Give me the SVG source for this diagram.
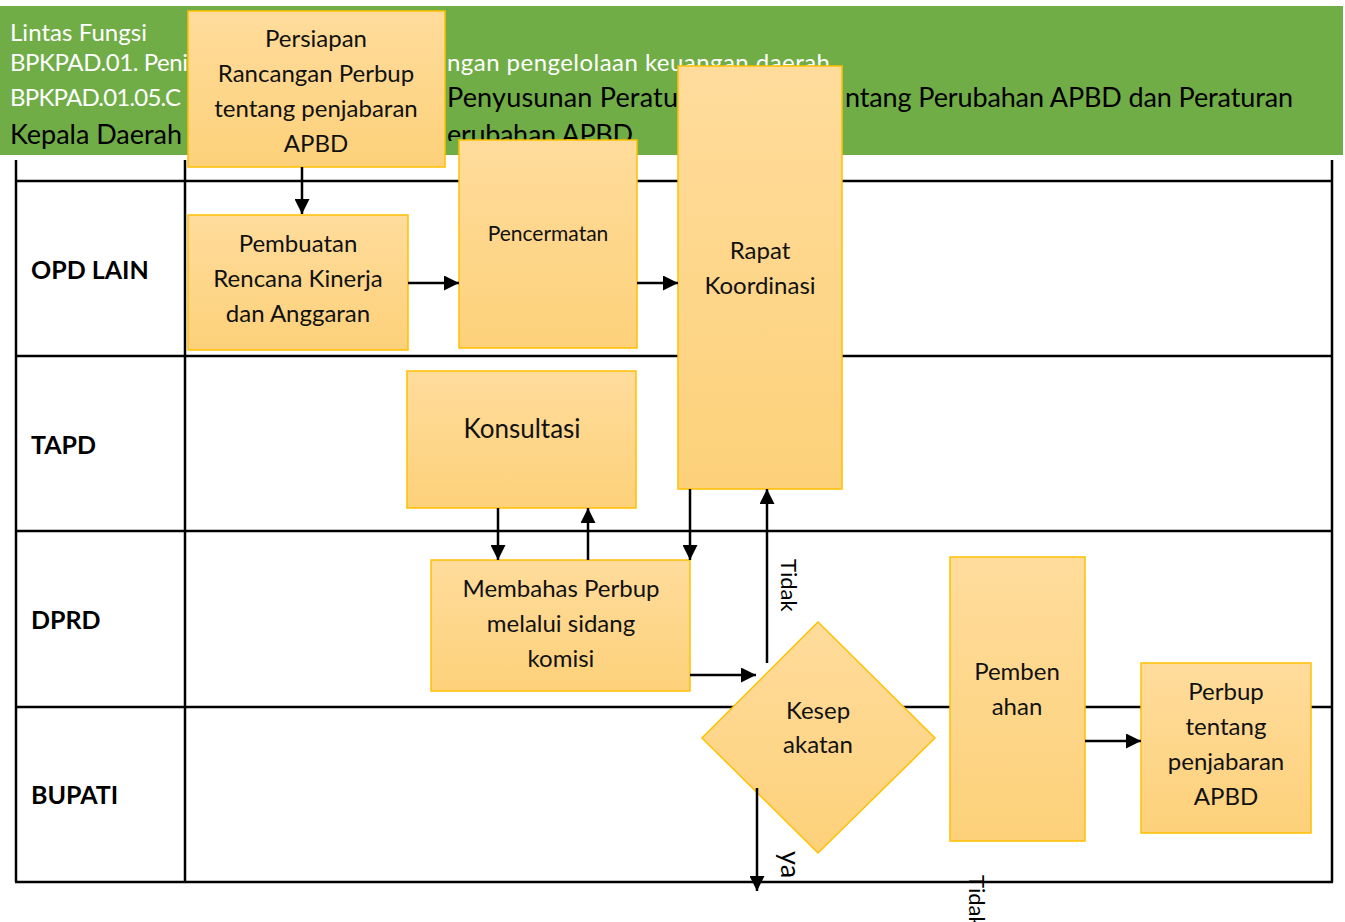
<svg xmlns="http://www.w3.org/2000/svg" width="1345" height="922" viewBox="0 0 1345 922">
  <style>
    .hdr-w { font-family: Lato, "Liberation Sans", sans-serif; font-size: 24px; fill: #ffffff; }
    .hdr-b { font-family: Lato, "Liberation Sans", sans-serif; font-size: 27px; fill: #000000; }
    .lane-line { stroke: #000000; stroke-width: 2.5; fill: none; }
    .lane-label { font-family: Lato, "Liberation Sans", sans-serif; font-size: 25px; font-weight: bold; fill: #000000; }
    .box { fill: url(#boxFill); stroke: #FFC000; stroke-width: 1.5; }
    .lbl { font-family: Lato, "Liberation Sans", sans-serif; font-size: 24px; fill: #111111; text-anchor: middle; }
    .lbl-s { font-family: Lato, "Liberation Sans", sans-serif; font-size: 21px; fill: #111111; text-anchor: middle; }
    .conn { stroke: #000000; stroke-width: 2.5; fill: none; marker-end: url(#arrow); }
    .side { font-family: Lato, "Liberation Sans", sans-serif; font-size: 22px; fill: #000000; }
  </style>
  <defs>
    <linearGradient id="boxFill" x1="0" y1="0" x2="0" y2="1">
      <stop offset="0" stop-color="#FFDC9C"/>
      <stop offset="1" stop-color="#FDD17A"/>
    </linearGradient>
    <marker id="arrow" markerUnits="userSpaceOnUse" markerWidth="15" markerHeight="15" viewBox="0 0 15 15" refX="15" refY="7.5" orient="auto">
      <path d="M0,0 L15,7.5 L0,15 Z" fill="#000000"/>
    </marker>
    <clipPath id="line4clip">
      <rect x="440" y="110" width="260" height="31"/>
    </clipPath>
  </defs>

  <!-- title band -->
  <g id="header">
    <rect x="0" y="6" width="1343" height="149" fill="#70AD47"/>
    <text class="hdr-w" x="10" y="41" textLength="137">Lintas Fungsi</text>
    <text class="hdr-w" x="10" y="71" textLength="178">BPKPAD.01. Peni</text>
    <text class="hdr-w" x="447" y="71" textLength="383">ngan pengelolaan keuangan daerah</text>
    <text class="hdr-w" x="10" y="106" textLength="171">BPKPAD.01.05.C</text>
    <text class="hdr-b" x="447" y="107" textLength="231">Penyusunan Peratu</text>
    <text class="hdr-b" x="845" y="107" textLength="448">ntang Perubahan APBD dan Peraturan</text>
    <text class="hdr-b" x="10" y="144" textLength="172">Kepala Daerah</text>
    <text class="hdr-b" x="447" y="144" textLength="186" clip-path="url(#line4clip)">erubahan APBD</text>
  </g>

  <!-- swimlane grid -->
  <g id="lanes">
    <line class="lane-line" x1="16" y1="160" x2="16" y2="882"/>
    <line class="lane-line" x1="185" y1="160" x2="185" y2="882"/>
    <line class="lane-line" x1="1332" y1="160" x2="1332" y2="882"/>
    <line class="lane-line" x1="15" y1="181" x2="1333" y2="181"/>
    <line class="lane-line" x1="15" y1="356" x2="1333" y2="356"/>
    <line class="lane-line" x1="15" y1="531" x2="1333" y2="531"/>
    <line class="lane-line" x1="15" y1="707" x2="1333" y2="707"/>
    <line class="lane-line" x1="15" y1="882" x2="1333" y2="882"/>
    <text class="lane-label" x="31" y="279">OPD LAIN</text>
    <text class="lane-label" x="31" y="454">TAPD</text>
    <text class="lane-label" x="31" y="629">DPRD</text>
    <text class="lane-label" x="31" y="804">BUPATI</text>
  </g>

  <g id="persiapan">
    <rect class="box" x="188" y="11" width="257" height="156"/>
    <text class="lbl" x="316" y="47">Persiapan</text>
    <text class="lbl" x="316" y="82">Rancangan Perbup</text>
    <text class="lbl" x="316" y="117">tentang penjabaran</text>
    <text class="lbl" x="316" y="152">APBD</text>
  </g>

  <g id="pembuatan">
    <rect class="box" x="188" y="215" width="220" height="135"/>
    <text class="lbl" x="298" y="252">Pembuatan</text>
    <text class="lbl" x="298" y="287">Rencana Kinerja</text>
    <text class="lbl" x="298" y="322">dan Anggaran</text>
  </g>

  <g id="pencermatan">
    <rect class="box" x="459" y="140" width="178" height="208"/>
    <text class="lbl-s" x="548" y="241">Pencermatan</text>
  </g>

  <g id="rapat">
    <rect class="box" x="678" y="66" width="164" height="423"/>
    <text class="lbl" x="760" y="259">Rapat</text>
    <text class="lbl" x="760" y="294">Koordinasi</text>
  </g>

  <g id="konsultasi">
    <rect class="box" x="407" y="371" width="229" height="137"/>
    <text class="lbl" x="522" y="438" style="font-size:26px">Konsultasi</text>
  </g>

  <g id="membahas">
    <rect class="box" x="431" y="560" width="259" height="131"/>
    <text class="lbl" x="561" y="597">Membahas Perbup</text>
    <text class="lbl" x="561" y="632">melalui sidang</text>
    <text class="lbl" x="561" y="667">komisi</text>
  </g>

  <g id="kesepakatan">
    <polygon class="box" points="818,622 935,738 818,853 702,738"/>
    <text class="lbl" x="818" y="719">Kesep</text>
    <text class="lbl" x="818" y="753">akatan</text>
  </g>

  <g id="pembenahan">
    <rect class="box" x="950" y="557" width="135" height="284"/>
    <text class="lbl" x="1017" y="680">Pemben</text>
    <text class="lbl" x="1017" y="715">ahan</text>
  </g>

  <g id="perbup">
    <rect class="box" x="1141" y="663" width="170" height="170"/>
    <text class="lbl" x="1226" y="700">Perbup</text>
    <text class="lbl" x="1226" y="735">tentang</text>
    <text class="lbl" x="1226" y="770">penjabaran</text>
    <text class="lbl" x="1226" y="805">APBD</text>
  </g>

  <!-- connectors -->
  <g id="connectors">
    <line class="conn" x1="302" y1="167" x2="302" y2="214"/>
    <line class="conn" x1="408" y1="283" x2="459" y2="283"/>
    <line class="conn" x1="637" y1="283" x2="678" y2="283"/>
    <line class="conn" x1="498" y1="508" x2="498" y2="560"/>
    <line class="conn" x1="588" y1="560" x2="588" y2="508"/>
    <line class="conn" x1="690" y1="489" x2="690" y2="560"/>
    <line class="conn" x1="690" y1="675" x2="756" y2="675"/>
    <line class="conn" x1="767" y1="663" x2="767" y2="489"/>
    <line class="conn" x1="757" y1="788" x2="757" y2="891"/>
    <line class="conn" x1="1085" y1="741" x2="1141" y2="741"/>
    <text class="side" transform="translate(781,559) rotate(90)">Tidak</text>
    <text class="side" transform="translate(781,851) rotate(90)" style="font-size:27px">ya</text>
    <text class="side" transform="translate(969,875) rotate(90)">Tidak</text>
  </g>
</svg>
